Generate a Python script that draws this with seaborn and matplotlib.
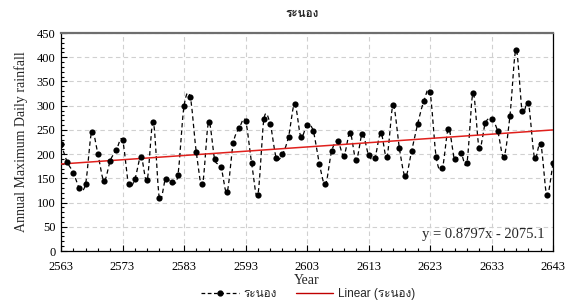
import numpy as np
import pandas as pd
import matplotlib
matplotlib.use("Agg")
import matplotlib.pyplot as plt
from matplotlib import font_manager
from matplotlib.ft2font import FT2Font
from matplotlib.lines import Line2D
from matplotlib.ticker import MultipleLocator
import seaborn as sns

# ---------------- data ----------------
years = list(range(2563, 2644))
rainfall = [
    221.5, 184, 162, 130, 139, 246, 199.5, 144.5, 186.5, 208.5,
    229, 137.6, 148, 195, 146, 265.6, 108.7, 148.6, 142.4, 156,
    299, 318.5, 203.6, 137.6, 265.6, 189, 174, 122, 222, 254,
    269, 181, 116, 272.5, 263, 192.6, 199.5, 236, 303.4, 236,
    259.4, 248.4, 180, 138, 205.7, 226.4, 196.8, 244, 187.8, 241.5,
    199, 191, 244, 194.7, 300.7, 213, 154, 205.7, 263, 309,
    327.5, 194, 170.6, 252.5, 189, 203, 182, 325.4, 213, 264,
    272.5, 248, 194.7, 279, 415.5, 288, 305, 192.6, 221.5, 115.6,
    181.6,
]
x_ticks = [2563, 2573, 2583, 2593, 2603, 2613, 2623, 2633, 2643]
trend_slope = 0.8797
trend_intercept = -2075.1
series_name = "ระนอง"
trend_name = "Linear (ระนอง)"
title = "ระนอง"
x_label = "Year"
y_label = "Annual Maximum Daily rainfall"
equation = "y = 0.8797x - 2075.1"

# ---------------- fonts ----------------
sns.set_theme(style="white")

def find_thai_font():
    names = []
    for f in font_manager.fontManager.ttflist:
        try:
            ft = FT2Font(f.fname)
            if ft.get_char_index(ord("ร")) != 0 and ft.get_char_index(ord("อ")) != 0:
                names.append(f.name)
        except Exception:
            pass
    return names[0] if names else "DejaVu Sans"

thai = find_thai_font()
plt.rcParams["font.family"] = ["Liberation Serif", thai]
sans_thai = ["Liberation Sans", thai, "DejaVu Sans"]

# ---------------- smoothing (Catmull-Rom, like Excel smoothed line) ----------------
def catmull_rom(x, y, n=12):
    x = np.asarray(x, float)
    y = np.asarray(y, float)
    px = np.concatenate([[2 * x[0] - x[1]], x, [2 * x[-1] - x[-2]]])
    py = np.concatenate([[2 * y[0] - y[1]], y, [2 * y[-1] - y[-2]]])
    xs, ys = [], []
    t = np.linspace(0, 1, n, endpoint=False)
    for i in range(1, len(px) - 2):
        def cr(a0, a1, a2, a3):
            return 0.5 * ((2 * a1) + (-a0 + a2) * t + (2 * a0 - 5 * a1 + 4 * a2 - a3) * t ** 2
                          + (-a0 + 3 * a1 - 3 * a2 + a3) * t ** 3)
        xs.append(cr(px[i - 1], px[i], px[i + 1], px[i + 2]))
        ys.append(cr(py[i - 1], py[i], py[i + 1], py[i + 2]))
    xs.append([x[-1]])
    ys.append([y[-1]])
    return np.concatenate(xs), np.concatenate(ys)

df = pd.DataFrame({"year": years, "rain": rainfall})
sx, sy = catmull_rom(df["year"], df["rain"])
smooth = pd.DataFrame({"year": sx, "rain": sy})
trend = pd.DataFrame({"year": [years[0], years[-1]]})
trend["rain"] = trend_slope * trend["year"] + trend_intercept

# ---------------- figure ----------------
fig = plt.figure(figsize=(5.70, 3.04), dpi=100)
ax = fig.add_axes([61 / 570, 1 - 251 / 304, (553 - 61) / 570, (251 - 33) / 304])

sns.lineplot(data=smooth, x="year", y="rain", ax=ax, color="black", lw=0.9,
             linestyle=(0, (3.5, 2.5)), sort=False, estimator=None)
sns.scatterplot(data=df, x="year", y="rain", ax=ax, color="black", s=20,
                edgecolor="black", linewidth=0, zorder=4)
sns.lineplot(data=trend, x="year", y="rain", ax=ax, color="#E0201C", lw=1.1, zorder=3)

ax.set_xlim(years[0], years[-1])
ax.set_ylim(0, 450)
ax.set_xticks(x_ticks)
ax.set_xticks(years[::2], minor=True)
ax.yaxis.set_major_locator(MultipleLocator(50))
ax.yaxis.set_minor_locator(MultipleLocator(10))
ax.grid(True, which="major", color="#D0D0D0", linestyle=(0, (4, 3)), lw=0.8)
ax.set_axisbelow(True)
ax.tick_params(axis="both", which="both", direction="in", labelsize=9, colors="black")
ax.tick_params(axis="x", which="major", pad=7)
ax.tick_params(axis="y", which="major", pad=4)
ax.tick_params(axis="both", which="major", length=4, width=0.8)
ax.tick_params(axis="both", which="minor", length=2.5, width=0.8)
ax.tick_params(axis="x", which="both", bottom=True, top=False)
ax.tick_params(axis="y", which="both", left=True, right=False)
for s in ["left", "bottom", "right"]:
    ax.spines[s].set_color("black")
    ax.spines[s].set_linewidth(0.9)
ax.spines["top"].set_color("#6E6E6E")
ax.spines["top"].set_linewidth(1.6)

ax.set_xlabel(x_label, fontsize=10, labelpad=1)
ax.set_ylabel(y_label, fontsize=10, labelpad=6)
ax.text(0.982, 0.075, equation, transform=ax.transAxes, ha="right", va="center", fontsize=10.5)

fig.text(302 / 570, 1 - 14 / 304, title, ha="center", va="center", fontsize=8.5,
         family=sans_thai, fontweight="bold")

handles = [
    Line2D([], [], color="black", lw=0.9, linestyle=(0, (3, 2)), marker="o", markersize=3.5),
    Line2D([], [], color="#C00000", lw=1.0),
]
fig.legend(handles, [series_name, trend_name], loc="center", bbox_to_anchor=(308 / 570, 1 - 294 / 304),
           ncol=2, frameon=False, prop={"family": sans_thai, "size": 8.5},
           handlelength=3.2, columnspacing=1.6, handletextpad=0.4)

fig.savefig("out.png", dpi=100)
